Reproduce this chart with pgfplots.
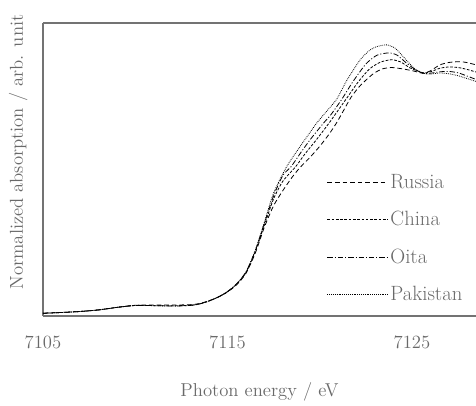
\documentclass[border=0pt]{standalone}
\usepackage{pgfplots}
\pgfplotsset{compat=1.18}
\definecolor{txtgray}{RGB}{105,105,105}
\definecolor{axgray}{RGB}{115,115,115}
\begin{document}
\begin{tikzpicture}
\useasboundingbox (0,0) rectangle (357pt,304.5pt);
\begin{axis}[
  at={(32.25pt,67.5pt)}, anchor=south west,
  scale only axis, width=324.75pt, height=219.75pt,
  xmin=7105, xmax=7128.47, ymin=0, ymax=1.5,
  axis x line*=box, axis y line*=left,
  axis line style={axgray, line width=1.1pt},
  major tick length=0pt,
  xtick={7105,7115,7125}, ytick=\empty,
  /pgf/number format/.cd, 1000 sep={}, assume math mode=true, /pgfplots/.cd,
  every tick label/.append style={font=\fontsize{14}{16}\selectfont, text=txtgray},
  xticklabel style={anchor=center, yshift=-19.5pt},
  xlabel={Photon energy / eV},
  xlabel style={at={(axis description cs:0.5,0)}, anchor=center, yshift=-57pt, font=\fontsize{14}{16}\selectfont, text=txtgray},
  ylabel={Normalized absorption / arb. unit},
  ylabel style={at={(axis description cs:-0.057,0.56)}, anchor=center, rotate=0, font=\fontsize{14}{16}\selectfont, text=txtgray},
  legend style={at={(rel axis cs:0.646,0.503)}, anchor=north west, draw=none, fill=none,
    font=\fontsize{15.5}{17}\selectfont, text=txtgray, row sep=11.8pt},
  legend cell align=left,
  legend image code/.code={\draw[#1] (-3pt,0pt) -- (42pt,0pt);},
  every axis plot/.append style={black, line width=0.6pt, smooth, tension=0.4},
  clip=true,
]
% Russia
\addplot[dash pattern=on 3.5pt off 2.2pt] coordinates {
(7105.0,0.014)(7106,0.018)(7107,0.023)(7108,0.031)(7109,0.044)(7110,0.055)(7111,0.056)(7112,0.056)(7113,0.058)(7113.5,0.064)(7114,0.078)(7114.5,0.097)(7115,0.123)(7115.5,0.16)(7116,0.218)(7116.5,0.32)(7117,0.455)(7117.5,0.565)(7118.0,0.642)(7118.5,0.71)(7118.93,0.76)(7119.5,0.815)(7120.01,0.87)(7120.5,0.93)(7120.92,0.99)(7121.28,1.05)(7121.7,1.12)(7122.2,1.18)(7122.9,1.24)(7123.4,1.265)(7123.9,1.272)(7124.5,1.265)(7125.05,1.255)(7125.6,1.243)(7126.0,1.255)(7126.5,1.285)(7127.0,1.298)(7127.6,1.302)(7128.0,1.297)(7128.5,1.285)};
\addlegendentry{Russia}
% China
\addplot[dash pattern=on 2pt off 1.2pt] coordinates {
(7105.0,0.014)(7106,0.018)(7107,0.023)(7108,0.031)(7109,0.044)(7110,0.054)(7111,0.053)(7112,0.052)(7113,0.055)(7113.5,0.062)(7114,0.077)(7114.5,0.097)(7115,0.124)(7115.5,0.163)(7116,0.222)(7116.5,0.328)(7117,0.465)(7117.5,0.60)(7118.0,0.69)(7118.7,0.765)(7119.2,0.83)(7119.8,0.9)(7120.5,0.987)(7120.9,1.04)(7121.5,1.12)(7122.1,1.2)(7122.7,1.265)(7123.3,1.3)(7123.9,1.312)(7124.4,1.3)(7124.9,1.27)(7125.6,1.245)(7126.0,1.25)(7126.5,1.268)(7127.0,1.275)(7127.5,1.272)(7128.0,1.262)(7128.5,1.248)};
\addlegendentry{China}
% Oita
\addplot[dash pattern=on 4pt off 1.5pt on 0.8pt off 1.5pt] coordinates {
(7105.0,0.014)(7106,0.018)(7107,0.023)(7108,0.031)(7109,0.044)(7110,0.054)(7111,0.053)(7112,0.051)(7113,0.054)(7113.5,0.062)(7114,0.077)(7114.5,0.097)(7115,0.125)(7115.5,0.165)(7116,0.225)(7116.5,0.332)(7117,0.475)(7117.5,0.615)(7118.0,0.72)(7118.45,0.765)(7119.0,0.84)(7119.5,0.905)(7120.2,0.987)(7120.6,1.03)(7121.2,1.11)(7121.8,1.2)(7122.5,1.29)(7123.1,1.335)(7123.75,1.347)(7124.2,1.335)(7124.7,1.295)(7125.2,1.26)(7125.6,1.243)(7126.0,1.243)(7126.5,1.25)(7127.0,1.252)(7127.5,1.245)(7128.0,1.228)(7128.5,1.21)};
\addlegendentry{Oita}
% Pakistan
\addplot[dash pattern=on 0.6pt off 0.8pt] coordinates {
(7105.0,0.014)(7106,0.018)(7107,0.023)(7108,0.031)(7109,0.044)(7110,0.054)(7111,0.053)(7112,0.051)(7113,0.054)(7113.5,0.062)(7114,0.077)(7114.5,0.097)(7115,0.125)(7115.5,0.165)(7116,0.225)(7116.5,0.335)(7117,0.48)(7117.5,0.63)(7118.21,0.765)(7118.93,0.867)(7119.4,0.93)(7119.83,0.987)(7120.3,1.04)(7120.92,1.11)(7121.46,1.205)(7122.18,1.31)(7122.7,1.36)(7123.09,1.379)(7123.63,1.388)(7124.1,1.37)(7124.6,1.32)(7125.1,1.27)(7125.6,1.243)(7126.0,1.238)(7126.5,1.244)(7127.0,1.24)(7127.5,1.23)(7128.0,1.215)(7128.5,1.20)};
\addlegendentry{Pakistan}
\end{axis}
\end{tikzpicture}
\end{document}
